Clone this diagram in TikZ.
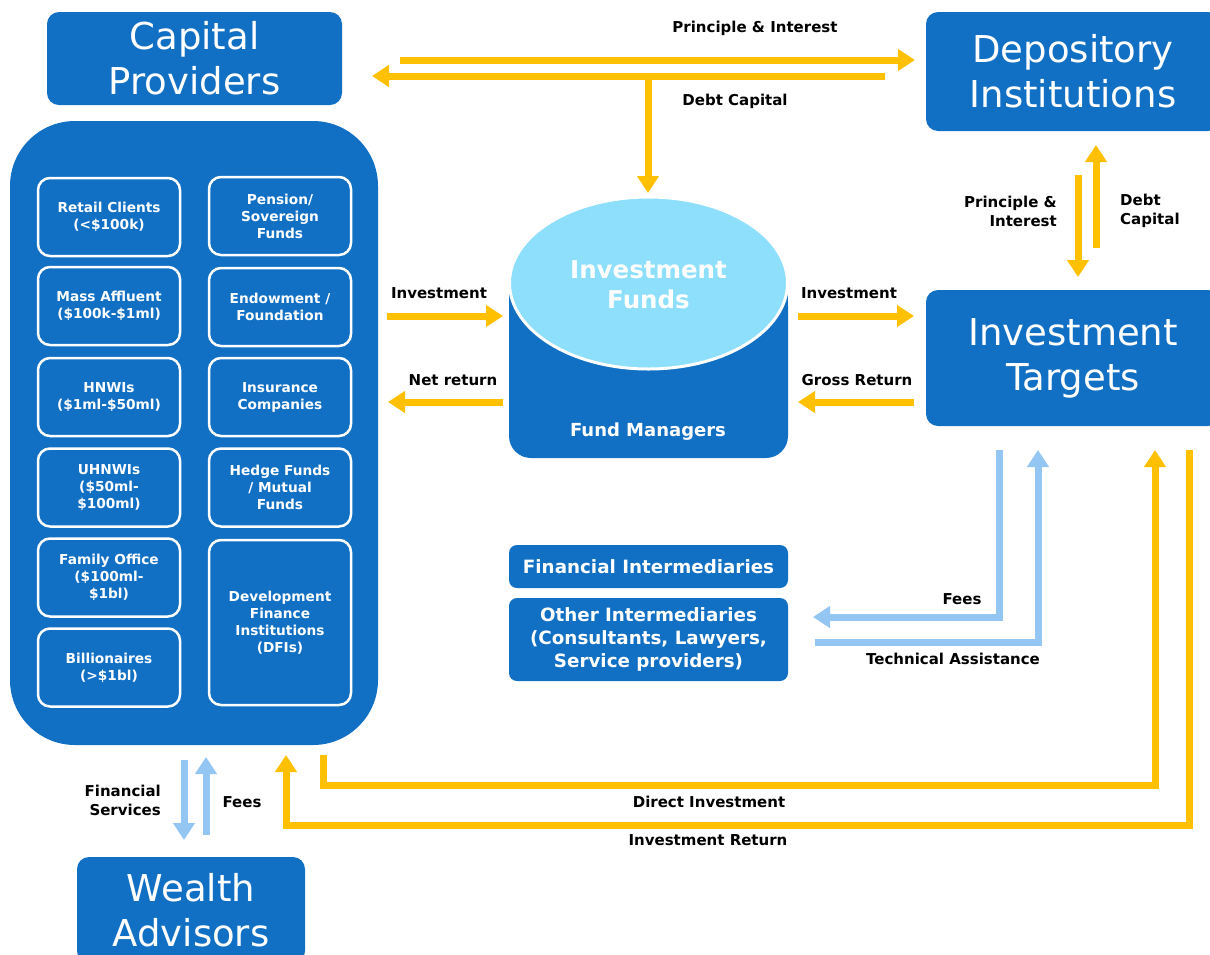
\documentclass[tikz,border=0pt]{standalone}
\usepackage{fontspec}
\setmainfont{DejaVu Sans}
\usetikzlibrary{arrows.meta,positioning}
\definecolor{boxblue}{HTML}{1270C4}
\definecolor{tankblue}{HTML}{8DDFFC}
\definecolor{flowgold}{HTML}{FFC000}
\definecolor{feeblue}{HTML}{94C6F4}
\tikzset{
  bigbox/.style={fill=boxblue,text=white,rounded corners=12pt,align=center,
    font=\fontsize{37}{45}\selectfont,inner sep=0pt},
  minibox/.style={fill=boxblue,draw=white,line width=2.5pt,rounded corners=12pt,
    text=white,align=center,font=\bfseries\fontsize{13.7}{17}\selectfont,
    minimum width=142pt,minimum height=78pt,inner sep=0pt},
  midbox/.style={fill=boxblue,rounded corners=8pt,text=white,align=center,
    font=\bfseries\fontsize{18.3}{23}\selectfont,minimum width=279pt,inner sep=0pt},
  lbl/.style={font=\bfseries\fontsize{15}{19}\selectfont,inner sep=0pt},
  money/.style={draw=flowgold,line width=7pt,-{Triangle[width=21pt,length=17pt]}},
  service/.style={draw=feeblue,line width=7pt,-{Triangle[width=21pt,length=17pt]}},
}
\begin{document}
\begin{tikzpicture}[x=1pt,y=-1pt]
  \useasboundingbox (0,0) rectangle (1210,954);
  \clip (0,0) rectangle (1210,954);

  % main blocks
  \node[bigbox,minimum width=295pt,minimum height=93pt] (cap) at (194.5,58.5) {Capital\\Providers};
  \node[bigbox,minimum width=294pt,minimum height=119pt] (dep) at (1073,71.5) {Depository\\Institutions};
  \node[bigbox,minimum width=294pt,minimum height=136pt] (tgt) at (1073,358) {Investment\\Targets};
  \node[bigbox,minimum width=228pt,minimum height=106pt] (adv) at (191,910) {Wealth\\Advisors};
  \node[fill=boxblue,rounded corners=65pt,minimum width=368pt,minimum height=624pt,inner sep=0pt] (inv) at (194,433) {};

  % investor types
  \begin{scope}[every node/.style={minibox}]
  \node (retail) at (109,217) {Retail Clients\\(<\$100k)};
  \node (mass) at (109,306) {Mass Affluent\\(\$100k-\$1ml)};
  \node (hnwi) at (109,397) {HNWIs\\(\$1ml-\$50ml)};
  \node (uhnwi) at (109,487.5) {UHNWIs\\(\$50ml-\\\$100ml)};
  \node (family) at (109,577.5) {Family Office\\(\$100ml-\\\$1bl)};
  \node (bill) at (109,667.5) {Billionaires\\(>\$1bl)};
  \node (pension) at (280,216) {Pension/\\Sovereign\\Funds};
  \node (endow) at (280,307) {Endowment /\\Foundation};
  \node (insur) at (280,397) {Insurance\\Companies};
  \node (hedge) at (280,487.5) {Hedge Funds\\/ Mutual\\Funds};
  \node[minimum height=165pt] (dfi) at (280,622.5) {Development\\Finance\\Institutions\\(DFIs)};
  \end{scope}

  % fund tank
  \fill[boxblue,rounded corners=22pt] (509,283) rectangle (788,458);
  \fill[boxblue] (509,283) rectangle (788,330);
  \draw[white,line width=3pt,fill=tankblue] (648.5,283) ellipse [x radius=139,y radius=86];
  \node[text=white,align=center,font=\bfseries\fontsize{24.5}{30}\selectfont] (funds) at (648.5,285) {Investment\\Funds};
  \node[text=white,font=\bfseries\fontsize{18}{21}\selectfont] (mgr) at (648,432) {Fund Managers};

  % intermediaries
  \node[midbox,minimum height=43pt] (fin) at (648.5,566.5) {Financial Intermediaries};
  \node[midbox,minimum height=83pt] (other) at (648.5,639.5) {Other Intermediaries\\(Consultants, Lawyers,\\Service providers)};

  % arrow ends
  \coordinate (piA) at (400,60);   \coordinate (piB) at (915,60);
  \coordinate (dcA) at (885,76);   \coordinate (dcB) at (372,76);
  \coordinate (dcC) at (648,76);   \coordinate (dcD) at (648,193);
  \coordinate (rpA) at (1078,175); \coordinate (rpB) at (1078,277);
  \coordinate (rdA) at (1096,248); \coordinate (rdB) at (1096,145);
  \coordinate (inA) at (387,316);  \coordinate (inB) at (503,316);
  \coordinate (nrA) at (503,402);  \coordinate (nrB) at (388,402);
  \coordinate (ioA) at (798,316);  \coordinate (ioB) at (914,316);
  \coordinate (grA) at (914,402);  \coordinate (grB) at (798,402);
  \coordinate (feA) at (999,450);  \coordinate (feB) at (813,617);
  \coordinate (taA) at (815,642);  \coordinate (taB) at (1038,450);
  \coordinate (diA) at (323,755);  \coordinate (diB) at (1155,785); \coordinate (diC) at (1155,450);
  \coordinate (irA) at (1189,450); \coordinate (irB) at (286,825);  \coordinate (irC) at (286,755);
  \coordinate (fsA) at (184,760);  \coordinate (fsB) at (184,840);
  \coordinate (wfA) at (206,835);  \coordinate (wfB) at (206,757);

  % money flows
  \draw[money] (piA) -- (piB);
  \draw[money] (dcA) -- (dcB);
  \draw[money] (dcC) -- (dcD);
  \draw[money] (rpA) -- (rpB);
  \draw[money] (rdA) -- (rdB);
  \draw[money] (inA) -- (inB);
  \draw[money] (nrA) -- (nrB);
  \draw[money] (ioA) -- (ioB);
  \draw[money] (grA) -- (grB);
  \draw[money] (diA) |- (diB) -- (diC);
  \draw[money] (irA) |- (irB) -- (irC);

  % service flows
  \draw[service] (feA) |- (feB);
  \draw[service] (taA) -| (taB);
  \draw[service] (fsA) -- (fsB);
  \draw[service] (wfA) -- (wfB);

  % labels
  \node[lbl] (lpi) at (755,28) {Principle \& Interest};
  \node[lbl] (ldc) at (735,101) {Debt Capital};
  \node[lbl,align=right,anchor=east] (lrp) at (1057,211) {Principle \&\\Interest};
  \node[lbl,align=left,anchor=west] (lrd) at (1120,211) {Debt\\Capital};
  \node[lbl] (lin) at (439,293) {Investment};
  \node[lbl] (lnr) at (453,380) {Net return};
  \node[lbl] (lio) at (849,293) {Investment};
  \node[lbl] (lgr) at (857,380) {Gross Return};
  \node[lbl] (lfe) at (962,599) {Fees};
  \node[lbl] (lta) at (953,659) {Technical Assistance};
  \node[lbl] (ldi) at (709,802) {Direct Investment};
  \node[lbl] (lir) at (708,840) {Investment Return};
  \node[lbl,align=right,anchor=east] (lfs) at (161,800) {Financial\\Services};
  \node[lbl] (lwf) at (242,802) {Fees};
\end{tikzpicture}
\end{document}
